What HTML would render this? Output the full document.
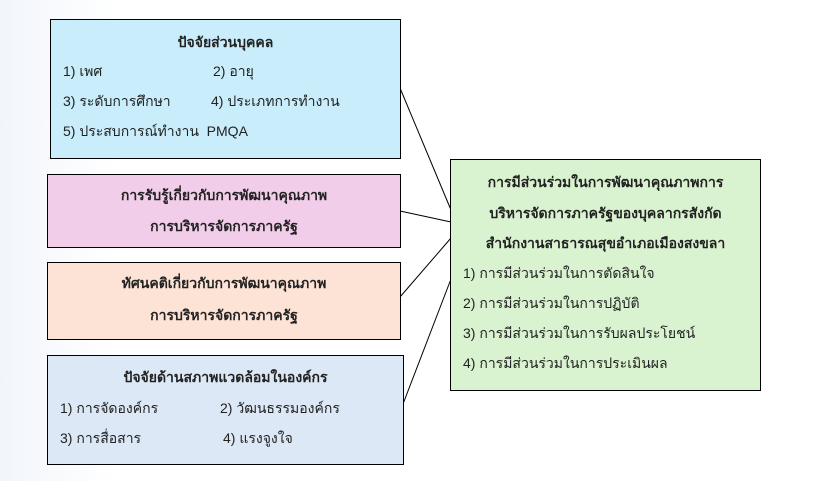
<!DOCTYPE html>
<html><head><meta charset="utf-8"><style>
body{margin:0;width:831px;height:481px;background:linear-gradient(90deg,#f2f6fb 0,#fff 120px);position:relative;overflow:hidden;font-family:"Liberation Sans",sans-serif;font-size:14px;color:#222}
.b{position:absolute;border:1px solid #000;box-sizing:border-box}
.t{position:absolute;white-space:nowrap;line-height:20px}
.c{left:0;right:0;text-align:center;font-weight:bold}
</style></head><body>
<svg width="831" height="481" style="position:absolute;left:0;top:0">
<g stroke="#000" stroke-width="1">
<line x1="400" y1="88" x2="451" y2="210"/>
<line x1="400" y1="211" x2="451" y2="222"/>
<line x1="400" y1="297" x2="451" y2="238"/>
<line x1="403" y1="404" x2="451" y2="279"/>
</g></svg>
<div class="b" style="left:50px;top:19px;width:351px;height:140px;background:#c9edfb">
<div class="t c" style="top:12px">ปัจจัยส่วนบุคคล</div>
<div class="t" style="left:12px;top:41px">1) เพศ</div>
<div class="t" style="left:162px;top:41px">2) อายุ</div>
<div class="t" style="left:12px;top:71px">3) ระดับการศึกษา</div>
<div class="t" style="left:160px;top:71px">4) ประเภทการทำงาน</div>
<div class="t" style="left:12px;top:101px">5) ประสบการณ์ทำงาน &nbsp;PMQA</div>
</div>
<div class="b" style="left:47px;top:174px;width:354px;height:74px;background:#f2cdea">
<div class="t c" style="top:10px">การรับรู้เกี่ยวกับการพัฒนาคุณภาพ</div>
<div class="t c" style="top:41px">การบริหารจัดการภาครัฐ</div>
</div>
<div class="b" style="left:47px;top:262px;width:354px;height:78px;background:#fde3d6">
<div class="t c" style="top:10px">ทัศนคติเกี่ยวกับการพัฒนาคุณภาพ</div>
<div class="t c" style="top:42px">การบริหารจัดการภาครัฐ</div>
</div>
<div class="b" style="left:47px;top:355px;width:357px;height:110px;background:#dce8f5">
<div class="t c" style="top:11px">ปัจจัยด้านสภาพแวดล้อมในองค์กร</div>
<div class="t" style="left:12px;top:42px">1) การจัดองค์กร</div>
<div class="t" style="left:172px;top:42px">2) วัฒนธรรมองค์กร</div>
<div class="t" style="left:12px;top:72px">3) การสื่อสาร</div>
<div class="t" style="left:175px;top:72px">4) แรงจูงใจ</div>
</div>
<div class="b" style="left:450px;top:159px;width:311px;height:232px;background:#d9f2d0">
<div class="t c" style="top:12px">การมีส่วนร่วมในการพัฒนาคุณภาพการ</div>
<div class="t c" style="top:43px">บริหารจัดการภาครัฐของบุคลากรสังกัด</div>
<div class="t c" style="top:73px">สำนักงานสาธารณสุขอำเภอเมืองสงขลา</div>
<div class="t" style="left:12px;top:103px">1) การมีส่วนร่วมในการตัดสินใจ</div>
<div class="t" style="left:12px;top:133px">2) การมีส่วนร่วมในการปฏิบัติ</div>
<div class="t" style="left:12px;top:163px">3) การมีส่วนร่วมในการรับผลประโยชน์</div>
<div class="t" style="left:12px;top:193px">4) การมีส่วนร่วมในการประเมินผล</div>
</div>
</body></html>
